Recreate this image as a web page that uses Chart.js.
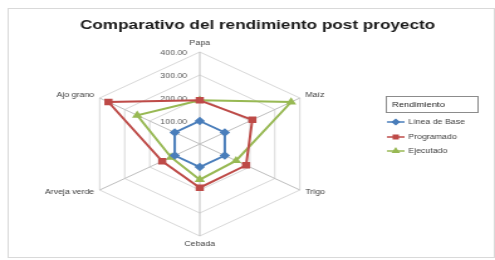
<!DOCTYPE html>
<html><head><meta charset="utf-8">
<script src="https://cdn.jsdelivr.net/npm/chart.js@4"></script>
<style>
html,body{margin:0;padding:0;background:#fff;overflow:hidden}
#wrap{width:495px;height:260px;overflow:hidden}
canvas{transform:scaleX(1.25635);transform-origin:0 0;display:block}
</style></head><body>
<div id="wrap"><canvas id="c" width="394" height="260"></canvas></div>
<script>
const categories = ['Papa', 'Maíz', 'Trigo', 'Cebada', 'Arveja verde', 'Ajo grano'];
const lineaBase = [100, 100, 100, 100, 100, 100];
const programado = [190, 210, 185, 190, 150, 365];
const ejecutado = [190, 365, 145, 155, 115, 250];
const tickValues = [100, 200, 300, 400];
const tickLabels = ['100.00', '200.00', '300.00', '400.00'];
const seriesNames = ['Línea de Base', 'Programado', 'Ejecutado'];
const seriesColors = ['#4a7ebb', '#be4b48', '#98b954'];
const seriesMarkers = ['rectRot', 'rect', 'triangle'];
const chartTitle = 'Comparativo del rendimiento post proyecto';
const legendTitle = 'Rendimiento';

const FONT = '"Liberation Sans", Arial, sans-serif';

const deco = {
  id: 'deco',
  beforeDraw(chart) {
    const ctx = chart.ctx;
    ctx.save();
    ctx.fillStyle = '#fff';
    ctx.fillRect(0, 0, chart.width, chart.height);
    ctx.restore();
  },
  beforeDatasetsDraw(chart) {
    const ctx = chart.ctx, s = chart.scales.r;
    ctx.save();
    ctx.font = '7px ' + FONT;
    ctx.fillStyle = '#595959';
    ctx.textAlign = 'right';
    ctx.textBaseline = 'middle';
    tickValues.forEach((v, i) => {
      const r = s.getDistanceFromCenterForValue(v);
      ctx.fillText(tickLabels[i], s.xCenter - 10, s.yCenter - r + 1);
    });
    ctx.restore();
  },
  afterDraw(chart) {
    const ctx = chart.ctx, s = chart.scales.r;
    ctx.save();
    // chart border
    ctx.strokeStyle = '#d9d9d9';
    ctx.lineWidth = 1;
    ctx.strokeRect(6.5, 8.5, 387, 249);
    // title
    let fs = 12;
    ctx.font = 'bold ' + fs + 'px ' + FONT;
    const w = ctx.measureText(chartTitle).width;
    fs = fs * 283 / w;
    ctx.font = 'bold ' + fs.toFixed(2) + 'px ' + FONT;
    ctx.fillStyle = '#1a1a1a';
    ctx.textAlign = 'center';
    ctx.textBaseline = 'alphabetic';
    ctx.fillText(chartTitle, 205, 29);
    // point labels
    ctx.font = '7px ' + FONT;
    ctx.fillStyle = '#404040';
    categories.forEach((c, i) => {
      const p = s.getPointPosition(i, s.drawingArea + 5);
      const dx = p.x - s.xCenter;
      if (Math.abs(dx) < 1) {
        ctx.textAlign = 'center';
        ctx.textBaseline = p.y < s.yCenter ? 'bottom' : 'top';
      } else {
        ctx.textAlign = dx > 0 ? 'left' : 'right';
        ctx.textBaseline = 'middle';
      }
      ctx.fillText(c, p.x, p.y);
    });
    // legend
    ctx.strokeStyle = '#8c8c8c';
    ctx.strokeRect(307.5, 96.5, 73, 16);
    ctx.fillStyle = '#262626';
    ctx.textAlign = 'left';
    ctx.textBaseline = 'middle';
    ctx.font = '7.5px ' + FONT;
    ctx.fillText(legendTitle, 312, 105);
    ctx.font = '7px ' + FONT;
    const ys = [122, 137, 151];
    seriesNames.forEach((n, i) => {
      const y = ys[i];
      ctx.strokeStyle = seriesColors[i];
      ctx.lineWidth = 1.5;
      ctx.beginPath();
      ctx.moveTo(308, y);
      ctx.lineTo(322, y);
      ctx.stroke();
      Chart.helpers.drawPoint(ctx, {pointStyle: seriesMarkers[i], radius: 2.5, rotation: 0, borderWidth: 1}, 315, y);
      ctx.fillStyle = seriesColors[i];
      ctx.fill();
      ctx.fillStyle = '#404040';
      ctx.fillText(n, 325, y);
    });
    ctx.restore();
  }
};

const datasets = [lineaBase, programado, ejecutado].map((d, i) => ({
  label: seriesNames[i],
  data: d,
  borderColor: seriesColors[i],
  backgroundColor: seriesColors[i],
  pointBackgroundColor: seriesColors[i],
  pointBorderColor: seriesColors[i],
  pointStyle: seriesMarkers[i],
  pointRadius: i === 1 ? 3.2 : 2.8,
  borderWidth: 2,
  fill: false,
  tension: 0
}));

new Chart(document.getElementById('c'), {
  type: 'radar',
  data: { labels: categories, datasets },
  options: {
    responsive: false,
    animation: false,
    layout: { padding: { left: 67, right: 143, top: 52, bottom: 24 } },
    plugins: { legend: { display: false }, title: { display: false }, tooltip: { enabled: false } },
    scales: {
      r: {
        min: 0, max: 400,
        ticks: { stepSize: 100, display: false },
        pointLabels: { display: false },
        grid: { color: '#d9d9d9', lineWidth: 1 },
        angleLines: { color: '#bfbfbf', lineWidth: 1 }
      }
    }
  },
  plugins: [deco]
});
</script>
</body></html>
